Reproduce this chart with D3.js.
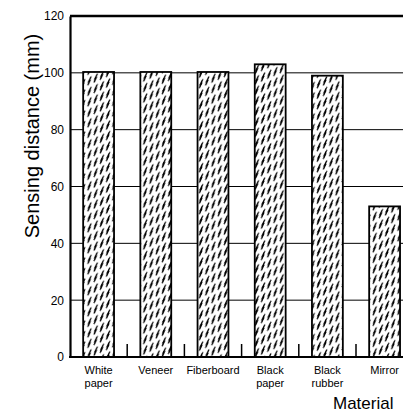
<!DOCTYPE html>
<html><head><meta charset="utf-8">
<script src="https://cdn.jsdelivr.net/npm/d3@7/dist/d3.min.js"></script>
<style>body{margin:0;background:#fff;}svg{display:block;font-family:"Liberation Sans",Arial,sans-serif;}</style>
</head><body>
<script>
const categories = [["White","paper"],["Veneer"],["Fiberboard"],["Black","paper"],["Black","rubber"],["Mirror"]];
const values = [100.3, 100.3, 100.3, 103, 99, 53];
const yTicks = [0,20,40,60,80,100,120];
const yTitle = "Sensing distance (mm)";
const xTitle = "Material";

const W = 403, H = 412;
const svg = d3.select("body").append("svg").attr("width",W).attr("height",H);
const x0 = 70, step = 57.2;
const keys = categories.map((c,i)=>"c"+i);
const x = d3.scaleBand().domain(keys).range([x0, x0+step*keys.length]).paddingInner(0.46).paddingOuter(0.23);
const y = d3.scaleLinear().domain([0,120]).range([357,16]);

const defs = svg.append("defs");
const pat = defs.append("pattern").attr("id","bolt").attr("patternUnits","userSpaceOnUse")
  .attr("width",6.2).attr("height",10.5).attr("patternTransform","skewY(-24)");
pat.append("rect").attr("width",6.2).attr("height",10.5).attr("fill","#fff");
pat.append("path").attr("d","M1.0,8.8 L3.0,5.4 L2.0,5.4 L4.4,1.6").attr("fill","none").attr("stroke","#000").attr("stroke-width",1.6).attr("stroke-linejoin","miter");

// gridlines
svg.append("g").selectAll("line").data(yTicks.filter(t=>t>0 && t<120)).join("line")
  .attr("x1",x0).attr("x2",W).attr("y1",d=>y(d)).attr("y2",d=>y(d)).attr("stroke","#000").attr("stroke-width",1);
// top line
svg.append("line").attr("x1",x0).attr("x2",W).attr("y1",y(120)).attr("y2",y(120)).attr("stroke","#000").attr("stroke-width",2.5);

// bars
svg.append("g").selectAll("rect").data(values).join("rect")
  .attr("x",(d,i)=>x(keys[i])).attr("width",x.bandwidth())
  .attr("y",d=>y(d)).attr("height",d=>y(0)-y(d))
  .attr("fill","url(#bolt)").attr("stroke","#000").attr("stroke-width",1.8);

// small boundary ticks
svg.append("g").selectAll("line").data(keys.slice(1)).join("line")
  .attr("x1",d=>x(d)-x.step()*x.paddingInner()/2).attr("x2",d=>x(d)-x.step()*x.paddingInner()/2)
  .attr("y1",344).attr("y2",y(0)).attr("stroke","#000").attr("stroke-width",1.5);

// axes
const yAxis = d3.axisLeft(y).tickValues(yTicks).tickSize(0).tickPadding(6);
const gy = svg.append("g").attr("transform",`translate(${x0},0)`).call(yAxis);
gy.select(".domain").attr("stroke","#000").attr("stroke-width",2.2);
gy.selectAll("text").attr("font-size",12).attr("fill","#000").attr("font-family","Liberation Sans, Arial, sans-serif");
svg.append("line").attr("x1",x0-1).attr("x2",W).attr("y1",y(0)).attr("y2",y(0)).attr("stroke","#000").attr("stroke-width",2.2);

// category labels
const lab = svg.append("g").selectAll("text").data(categories).join("text")
  .attr("text-anchor","middle").attr("font-size",11).attr("fill","#000");
lab.each(function(c,i){
  const t = d3.select(this);
  c.forEach((s,j)=>t.append("tspan").attr("x",x(keys[i])+x.bandwidth()/2).attr("y",374+j*13).text(s));
});

svg.append("text").attr("x",333).attr("y",409).attr("font-size",17).attr("fill","#000").text(xTitle);
svg.append("text").attr("transform","translate(39,136) rotate(-90)").attr("text-anchor","middle")
  .attr("font-size",20).attr("fill","#000").text(yTitle);
</script>
</body></html>
